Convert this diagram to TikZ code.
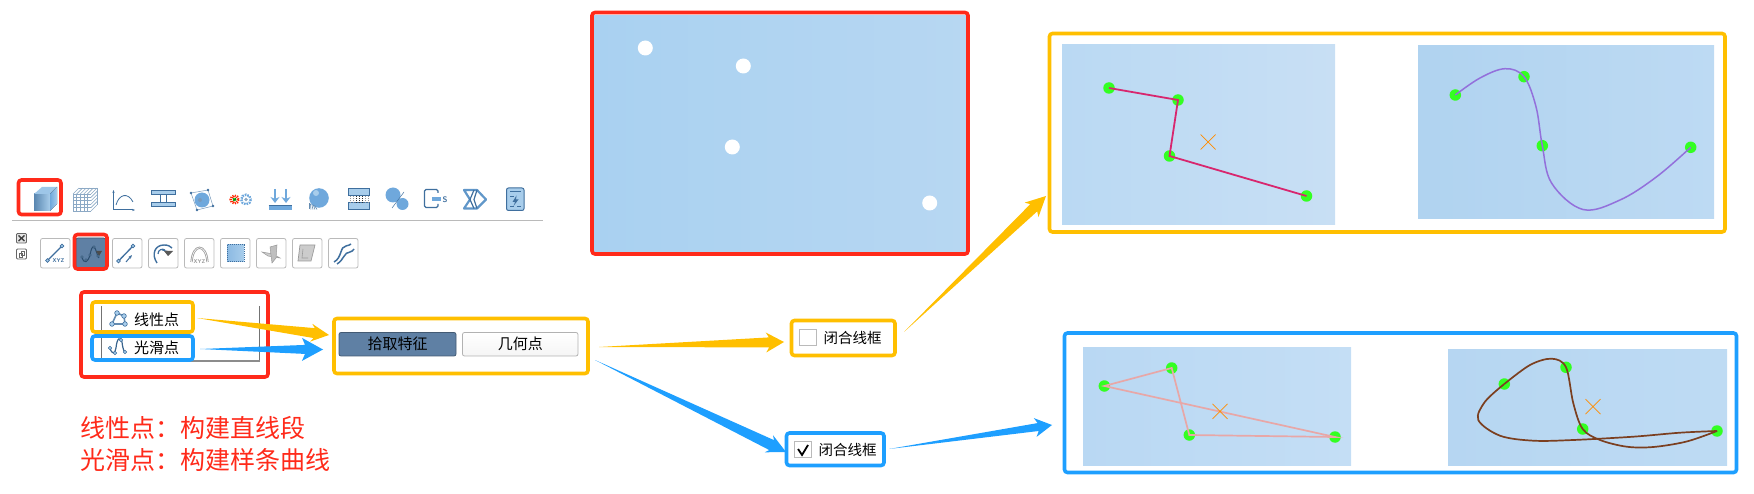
\documentclass[tikz,border=0pt]{standalone}
\usepackage{fontspec}
\usetikzlibrary{calc,arrows.meta}
\newfontfamily\cjk{Noto Sans CJK SC}
\definecolor{myred}{HTML}{FF2A1A}
\definecolor{myyel}{HTML}{FFBF00}
\definecolor{myblu}{HTML}{1E9FFF}
\definecolor{ptgreen}{HTML}{33FF22}
\definecolor{btnsel}{HTML}{5F80A4}
\definecolor{icd}{HTML}{3F6F9E}
\definecolor{icm}{HTML}{6FA8DC}
\definecolor{icl}{HTML}{A8CDEB}
\definecolor{icg}{HTML}{9A9A9A}
\definecolor{pAa}{HTML}{A9D1F1}\definecolor{pAb}{HTML}{B7D7F2}
\definecolor{pBa}{HTML}{BAD9F3}\definecolor{pBb}{HTML}{C8DFF4}
\definecolor{pCa}{HTML}{B0D3F0}\definecolor{pCb}{HTML}{BDDAF3}
\definecolor{pDa}{HTML}{B9D8F3}\definecolor{pDb}{HTML}{C4DEF5}
\definecolor{pEa}{HTML}{B6D6F2}\definecolor{pEb}{HTML}{BEDBF3}
\definecolor{lnA}{HTML}{D8266E}
\definecolor{lnB}{HTML}{9370DB}
\definecolor{lnC}{HTML}{E8A7A7}
\definecolor{lnD}{HTML}{7B3F20}
\tikzset{
  redbox/.style={draw=myred,line width=3.6pt,rounded corners=3pt},
  yelbox/.style={draw=myyel,line width=3.6pt,rounded corners=3pt},
  blubox/.style={draw=myblu,line width=3.6pt,rounded corners=3pt},
  toolbtn/.style={draw=black!27,fill=white,line width=.8pt,rounded corners=2pt},
  widebtn/.style={draw=black!30,top color=white,bottom color=black!4,line width=.8pt,rounded corners=2pt},
  selbtn/.style={draw=btnsel!70!black,fill=btnsel,line width=.8pt,rounded corners=2pt},
  check/.style={draw=black!27,fill=white,line width=1pt},
  ptdot/.style={fill=ptgreen,draw=none,circle,minimum size=11.5pt,inner sep=0pt},
  holedot/.style={fill=white,draw=none,circle,minimum size=15pt,inner sep=0pt},
  txt/.style={font=\cjk\fontsize{15}{18}\selectfont,text=black,inner sep=0pt},
  redtxt/.style={font=\cjk\fontsize{25}{30}\selectfont,text=myred,inner sep=0pt,anchor=west},
  xmark/.style={draw=orange!90!yellow,line width=.7pt},
  ic/.style={draw=icd,line width=1pt},
}
\newcommand{\bx}[6]{%
  \pgfmathsetmacro{\bxw}{#5-#3}\pgfmathsetmacro{\bxh}{#6-#4}%
  \pgfmathsetmacro{\bxcx}{(#5+#3)/2}\pgfmathsetmacro{\bxcy}{(#6+#4)/2}%
  \node[#1,inner sep=0pt,outer sep=0pt,minimum width=\bxw pt,minimum height=\bxh pt] (#2) at (\bxcx,\bxcy) {};}
\newcommand{\taper}[6]{%
  \coordinate (TN) at ($(#3)!#4pt!(#2)$);%
  \coordinate (TM) at ($(#3)!#4pt-3pt!(#2)$);%
  \fill[#1] (#2) -- ($(TM)!#6pt!90:(#3)$) -- ($(TN)!#5pt!90:(#3)$) -- (#3) -- ($(TN)!#5pt!-90:(#3)$) -- ($(TM)!#6pt!-90:(#3)$) -- cycle;}
\newcommand{\xm}[3]{\node[inner sep=0pt,minimum size=0pt] (#1) at (#2,#3) {};
  \draw[xmark] (#2-7.5,#3-7.5) -- (#2+7.5,#3+7.5) (#2-7.5,#3+7.5) -- (#2+7.5,#3-7.5);}
\begin{document}
\begin{tikzpicture}[x=1pt,y=-1pt]
\useasboundingbox (0,0) rectangle (1754,494);
% ---------- top toolbar
\fill[left color=icm!80!black,right color=icl] (34,194) rectangle (50,211);
\fill[icl!80!icm] (34,194) -- (42,187) -- (57,187) -- (50,194) -- cycle;
\fill[left color=icm,right color=icl] (50,194) -- (57,187) -- (57,204) -- (50,211) -- cycle;
\bx{redbox}{rCube}{18.5}{180}{61}{214.5}
\begin{scope}[line width=.6pt]
\foreach \i in {0,3.6,...,18} {\draw[icd!60] (73+\i,194) -- (73+\i,211); \draw[icd!60] (73+\i,194) -- (79+\i,188);}
\foreach \i in {0,3.4,...,17} {\draw[icd!60] (73,194+\i) -- (91,194+\i); \draw[icd!60] (91,194+\i) -- (97,188+\i);}
\draw[icd!60] (79,188) -- (97,188) -- (97,205);
\end{scope}
\draw[ic,-{Stealth[length=3pt]}] (113.5,210) -- (113.5,190);
\draw[ic,-{Stealth[length=3pt]}] (113.5,210) -- (135,210);
\draw[ic,line width=.8pt] (116,205) .. controls (119,194) and (128,192) .. (133,202);
\fill[icl,draw=icd,line width=1pt] (151,190.5) rectangle (175,195) (151,202.5) rectangle (175,207);
\draw[ic] (160,195) -- (160,202.5) (166,195) -- (166,202.5);
\draw[icd!70,line width=.5pt] (191,193) -- (208,190) -- (213,206) -- (197,210) -- cycle;
\fill[icm] (202,200) circle (7.5);
\fill[icd!70] (200,200) circle (2);
\foreach \p in {(191,193),(208,190),(213,206),(197,210)} \fill[icd] \p circle (1.3);
\draw[line width=2.6pt,dash pattern=on 1.2pt off 1pt,red!70!orange] (234.5,199.5) circle (3.8);
\draw[line width=1.5pt,green!60!black,dash pattern=on 1.2pt off 1pt] (234.5,199.5) circle (1.5);
\draw[line width=2.4pt,icm,dash pattern=on 1.6pt off 1pt] (246,199.5) circle (4.8);
\fill[icd!60] (246,199.5) circle (1.8);
\foreach \x in {275,286} {\draw[icm,line width=2.4pt,-{Stealth[length=6pt,width=9pt]}] (\x,189) -- (\x,203);}
\fill[icm] (268.5,205.5) rectangle (292,210);
\draw[icd,line width=.7pt] (268.5,205.5) -- (292,205.5);
\fill[icm] (319,198) circle (9.8);
\fill[icl] (316,193) circle (3);
\foreach \i in {0,1,2,3,4} {\draw[icd!80,line width=.6pt] (309+\i*1.4,203+\i*.6) -- (309+\i*2,209.5);}
\fill[icl,draw=icd,line width=1pt] (348.5,188.5) rectangle (369,195.5) (348.5,203) rectangle (369,210);
\foreach \x in {350,353,...,368} {\draw[black!40,line width=.7pt,dash pattern=on 1pt off 1pt] (\x,196) -- (\x,203);}
\foreach \x in {356,359,362} {\draw[black!80,line width=.9pt,dash pattern=on 1pt off 1pt] (\x,196) -- (\x,203);}
\fill[icm] (393,195) circle (7.5);
\fill[icm] (402.5,204) circle (6);
\draw[icd,line width=.5pt] (392,208) -- (404,192);
\draw[draw=icd,line width=1.2pt,rounded corners=1.5pt] (438,193) -- (438,189.5) -- (424.5,189.5) -- (424.5,207.5) -- (438,207.5) -- (438,204);
\fill[icm] (432,197) rectangle (441,201);
\node[inner sep=0pt,font=\sffamily\bfseries\fontsize{8}{8}\selectfont,text=icd] (sIcon) at (445,199.5) {S};
\draw[line width=2.2pt,draw=icm!70!icd,line join=round] (464,190) -- (477,190) -- (486,199.5) -- (477,208.5) -- (464,208.5) -- (470,199.5) -- cycle;
\draw[line width=1.2pt,icd] (474,190) -- (470,199.5) -- (474,208.5) (477,190) -- (474,199.5) -- (477,208.5);
\fill[icl,draw=icd,line width=1pt,rounded corners=2pt] (506.5,188) rectangle (524,210.5);
\draw[icd,line width=1pt] (510,192) -- (521,192) (510,197) -- (514,197) (510,207) -- (514,207) (517,207) -- (521,207);
\fill[icd] (516.5,195.5) -- (512.5,202) -- (515,202) -- (513.5,206) -- (518.5,199.5) -- (516,199.5) -- cycle;
\draw[black!27,line width=.8pt] (12,220.5) -- (543,220.5);
\draw[black!60,line width=.9pt,fill=black!10,rounded corners=1pt] (16.5,233.5) rectangle (26.5,243);
\draw[black!75,line width=1.4pt] (18.5,235.5) -- (24.5,241) (18.5,241) -- (24.5,235.5);
\draw[black!60,line width=.9pt,rounded corners=1pt] (16.5,249) rectangle (26.5,259);
\draw[black!60,line width=.8pt] (19,253) rectangle (22.5,257) (21,251) rectangle (24.5,255);
% ---------- second row buttons
\bx{toolbtn}{b1}{40.5}{238.5}{70}{268}
\bx{selbtn}{b2}{76}{238}{105.5}{268}
\bx{toolbtn}{b3}{112.5}{238.5}{142}{268}
\bx{toolbtn}{b4}{148.5}{238.5}{178}{268}
\bx{toolbtn}{b5}{184.5}{238.5}{214}{268}
\bx{toolbtn}{b6}{220.5}{238.5}{250}{268}
\bx{toolbtn}{b7}{256.5}{238.5}{286}{268}
\bx{toolbtn}{b8}{292.5}{238.5}{322}{268}
\bx{toolbtn}{b9}{328.5}{238.5}{358}{268}
\draw[ic,line width=1.3pt] (47.5,260.5) -- (62,246);
\draw[ic,fill=icl,line width=.7pt] (47.5,260.5) circle (1.8) (62,246) circle (1.8);
\node[inner sep=0pt,font=\sffamily\bfseries\fontsize{5.5}{6}\selectfont,text=icd] (b1t) at (58.5,260.5) {XYZ};
\draw[draw=icd!70!black,line width=1pt] (82,257) .. controls (84,265) and (88,262) .. (90,255) .. controls (91,250) and (92,246) .. (94,247) .. controls (96,248) and (97,256) .. (99,258);
\fill[black!70] (96,251) -- (102,251) -- (99,256) -- cycle;
\foreach \p in {(82,257),(86,260),(90,255),(94,247),(98,256)} \draw[draw=icd!70!black,fill=icl,line width=.5pt] \p circle (1.2);
\bx{redbox}{rBtn}{74.5}{234.5}{107}{269}
\draw[ic,line width=1.3pt] (118.5,261) -- (133,246);
\draw[ic,fill=icl,line width=.7pt] (118.5,261) circle (1.8) (133,246) circle (1.8);
\draw[ic,-{Stealth[length=4pt]}] (126,262) -- (132,255);
\draw[icd,line width=1.4pt] (157,263) .. controls (151,254) and (155,245) .. (164,245) .. controls (168,245) and (170,246) .. (172,248);
\draw[icd,line width=1.2pt] (158,254) .. controls (158,250) and (162,248) .. (165,250);
\draw[ic,line width=.9pt] (162,250) -- (170,252);
\fill[black!65] (164,251) -- (173,251) -- (168,256) -- cycle;
\draw[icg,line width=2.2pt] (191.5,262) .. controls (193,243) and (206,243) .. (207.5,262);
\draw[white,line width=.6pt] (191.5,262) .. controls (193,243) and (206,243) .. (207.5,262);
\node[inner sep=0pt,font=\sffamily\bfseries\fontsize{5.5}{6}\selectfont,text=icg] (b5t) at (199.5,261.5) {XYZ};
\fill[left color=icm!80,right color=icl] (227,245) rectangle (244,262);
\draw[icd,line width=1pt,dash pattern=on 1pt off 1pt] (227,245) rectangle (244,262);
\fill[black!20,draw=icg,line width=.5pt] (262,252) -- (273,254) -- (280,258) -- (268,256) -- cycle;
\fill[black!25,draw=icg,line width=.5pt] (270,247) -- (277,245) -- (276,258) -- (272,263) -- cycle;
\fill[black!20,draw=icg,line width=.7pt] (300,245) -- (315,245) -- (311,261) -- (298,261) -- cycle;
\draw[icg,line width=.6pt] (303,249) -- (302,258) -- (308,258);
\draw[icd,line width=1.5pt] (334,262) .. controls (342,258) and (340,246) .. (346,246) .. controls (349,245) and (350,245) .. (351,244);
\draw[icd,line width=1.5pt] (337,264) .. controls (344,260) and (344,252) .. (350,252) .. controls (352,252) and (353,250) .. (354,249);
% ---------- list panel
\draw[black!55,line width=.9pt] (101,306) -- (101,361);
\draw[black!55,line width=.9pt] (259,306) -- (259,361);
\draw[black!45,line width=1.6pt] (108,361) -- (260,361);
\node[txt,anchor=west] (tLin) at (134,320) {线性点};
\node[txt,anchor=west] (tSmo) at (134,348) {光滑点};
\draw[draw=icd!80,line width=1.6pt] (112,324) -- (117,313) -- (124,316) -- (125,324) -- cycle;
\foreach \p in {(112,324),(117,313),(124,316),(125,324)} \draw[draw=icd,fill=icl,line width=.6pt] \p circle (2.3);
\draw[draw=icd!90!black,line width=1.2pt] (110,348) .. controls (112,355) and (115,354) .. (116,348) .. controls (117,338) and (120,336) .. (122,342) .. controls (123,350) and (124,352) .. (126,352);
\foreach \p in {(110,348),(115,353),(121,340),(125,352)} \draw[draw=icd,fill=icl,line width=.6pt] \p circle (1.8);
\bx{redbox}{rList}{81}{292}{268}{377}
\bx{yelbox}{yLin}{92}{302}{193}{332}
\bx{blubox}{bSmo}{92}{336}{193}{360}
\node[redtxt] (note1) at (80.5,428) {线性点：构建直线段};
\node[redtxt] (note2) at (80.5,460) {光滑点：构建样条曲线};
% ---------- pick buttons
\bx{selbtn}{pick}{339}{332.5}{456}{356}
\node[txt] (pickT) at (pick) {拾取特征};
\bx{widebtn}{geom}{462.5}{332.5}{578}{356}
\node[txt] (geomT) at (geom) {几何点};
\bx{yelbox}{yPick}{334}{318.5}{588}{373.5}
% ---------- check boxes
\bx{yelbox}{yChk}{791.5}{320.5}{895}{355.5}
\bx{check}{chk1}{799}{329.5}{816}{345.5}
\node[txt,font=\cjk\fontsize{14.5}{18}\selectfont] (chk1T) at (852.5,338) {闭合线框};
\bx{blubox}{bChk}{786.5}{433}{884}{465.5}
\bx{check}{chk2}{794.5}{441.5}{811}{457.5}
\draw[black,line width=1.8pt] (798,449) -- (802,455) -- (808,445);
\node[txt,font=\cjk\fontsize{14.5}{18}\selectfont] (chk2T) at (847.5,449.5) {闭合线框};
% ---------- big red panel
\bx{left color=pAa,right color=pAb}{big}{594}{16}{966}{252}
\node[holedot] (h1) at (645.3,48) {};
\node[holedot] (h2) at (743.3,66) {};
\node[holedot] (h3) at (732.3,147) {};
\node[holedot] (h4) at (929.7,203) {};
\bx{redbox}{rBig}{592}{12.5}{968}{254}
% ---------- yellow result
\bx{yelbox}{yRes}{1049.5}{33.5}{1725}{232}
\bx{left color=pBa,right color=pBb}{pan1}{1062}{45}{1335}{225}
\coordinate (a1) at (1109,88);\coordinate (a2) at (1178,100);\coordinate (a3) at (1169.5,156);\coordinate (a4) at (1306.5,196);
\foreach \n in {a1,a2,a3,a4} \node[ptdot] (d\n) at (\n) {};
\draw[lnA,line width=1.8pt] (a1) -- (a2) -- (a3) -- (a4);
\xm{xa}{1208}{142}
\bx{left color=pCa,right color=pCb}{pan2}{1418}{46}{1714}{219}
\coordinate (c1) at (1455.3,95);\coordinate (c2) at (1524,76.7);\coordinate (c3) at (1542.3,145.7);\coordinate (c4) at (1690.7,147.3);
\foreach \n in {c1,c2,c3,c4} \node[ptdot] (d\n) at (\n) {};
\draw[lnB,line width=1.5pt] plot[smooth,tension=.6] coordinates {(c1) (1480,78) (1505,68.7) (c2) (1536,106.7) (c3) (1551.7,183.3) (1583,209.5) (1620,200) (1656.7,176.7) (c4)};
% ---------- blue result
\bx{blubox}{bRes}{1064.5}{333}{1736.5}{472.5}
\bx{left color=pDa,right color=pDb}{pan3}{1083}{348}{1351}{465}
\coordinate (e1) at (1104.3,386);\coordinate (e2) at (1171.7,368);\coordinate (e3) at (1189.3,435);\coordinate (e4) at (1335,437);
\foreach \n in {e1,e2,e3,e4} \node[ptdot] (d\n) at (\n) {};
\draw[lnC,line width=1.7pt] (e1) -- (e2) -- (e3) -- (e4) -- cycle;
\xm{xc}{1220}{411.3}
\bx{left color=pEa,right color=pEb}{pan4}{1448}{350}{1727}{465}
\coordinate (f1) at (1504.3,384);\coordinate (f2) at (1566,367.3);\coordinate (f3) at (1582.7,429);\coordinate (f4) at (1717,431);
\foreach \n in {f1,f2,f3,f4} \node[ptdot] (d\n) at (\n) {};
\draw[lnD,line width=1.7pt] plot[smooth,tension=.55] coordinates {(f1) (1530,365) (1551.7,358.7) (f2) (1573.3,403.3) (f3) (1600,440) (1626.7,446.7) (1653.3,447) (1686.7,441.5) (f4)};
\draw[lnD,line width=1.7pt] plot[smooth,tension=.55] coordinates {(f4) (1680,432.7) (1633.3,436.7) (1573.3,440) (1533.3,440.7) (1500,435.7) (1478.3,420) (1485,401.7) (f1)};
\xm{xd}{1593}{406.7}
% ---------- arrows
\coordinate (t1) at (197,318);\coordinate (h1a) at (329,335);
\coordinate (t2) at (200,349);\coordinate (h2a) at (323,349.5);
\coordinate (t3) at (599,347);\coordinate (h3a) at (784,342);
\coordinate (t4) at (904,332);\coordinate (h4a) at (1046,196);
\coordinate (t5) at (595,360);\coordinate (h5a) at (786,452);
\coordinate (t6) at (889,449);\coordinate (h6a) at (1052,425);
\taper{myyel}{t1}{h1a}{18}{9}{5}
\taper{myblu}{t2}{h2a}{21}{11.5}{4.5}
\taper{myyel}{t3}{h3a}{18}{10}{5}
\taper{myyel}{t4}{h4a}{20}{10}{5}
\taper{myblu}{t5}{h5a}{19}{9.5}{5.5}
\taper{myblu}{t6}{h6a}{17}{9.5}{4}
\end{tikzpicture}
\end{document}
